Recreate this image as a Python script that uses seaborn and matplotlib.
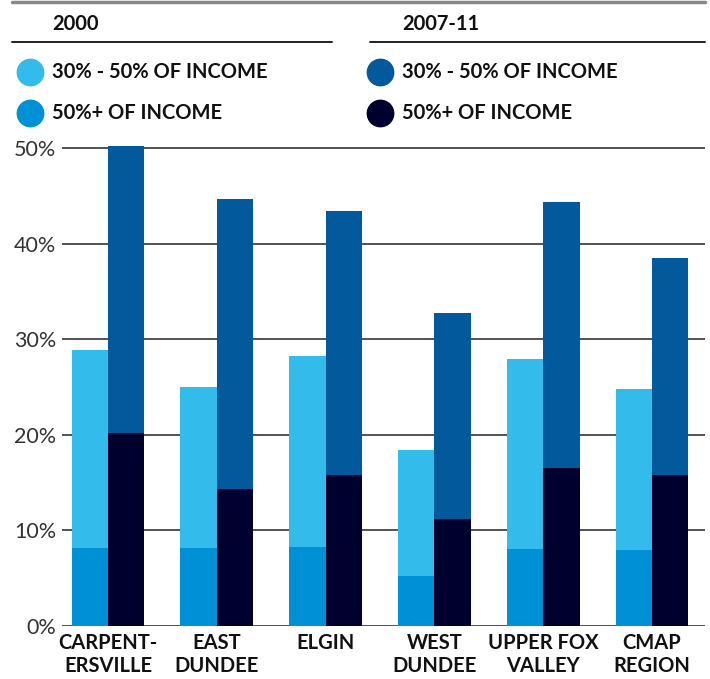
import pandas as pd
import matplotlib.pyplot as plt
import seaborn as sns
from matplotlib.lines import Line2D

# values (percent of households)
areas = ["CARPENT-\nERSVILLE", "EAST\nDUNDEE", "ELGIN", "WEST\nDUNDEE",
         "UPPER FOX\nVALLEY", "CMAP\nREGION"]
periods = ["2000", "2007-11"]
burden_30_50_2000 = [20.7, 16.8, 20.0, 13.2, 19.8, 16.8]
burden_50plus_2000 = [8.2, 8.2, 8.3, 5.2, 8.1, 8.0]
burden_30_50_0711 = [30.0, 30.4, 27.6, 21.5, 27.9, 22.7]
burden_50plus_0711 = [20.2, 14.3, 15.8, 11.2, 16.5, 15.8]
yticks = [0, 10, 20, 30, 40, 50]

COL_30_50 = ["#33BBEC", "#02599C"]
COL_50PLUS = ["#0090D6", "#00002E"]
legend_labels = ["30% - 50% OF INCOME", "50%+ OF INCOME"]

rows = []
for i, a in enumerate(areas):
    rows.append({"area": a, "period": periods[0],
                 "total": burden_30_50_2000[i] + burden_50plus_2000[i],
                 "over50": burden_50plus_2000[i]})
    rows.append({"area": a, "period": periods[1],
                 "total": burden_30_50_0711[i] + burden_50plus_0711[i],
                 "over50": burden_50plus_0711[i]})
df = pd.DataFrame(rows)

sns.set_theme(style="white")
plt.rcParams['font.family'] = ['Lato', 'DejaVu Sans']

fig = plt.figure(figsize=(7.1, 6.79), dpi=100)
ax = fig.add_axes([62 / 710, 53 / 679, 643 / 710, (626 - 138.6) / 679])

# gridlines behind the bars
for t in yticks:
    ax.axhline(t, color="#444444", lw=1.3, zorder=0)

# stacked: draw full height (30%+) first, then the 50%+ part on top
sns.barplot(data=df, x="area", y="total", hue="period", palette=COL_30_50,
            width=0.67, gap=0, saturation=1, legend=False, ax=ax, zorder=2)
sns.barplot(data=df, x="area", y="over50", hue="period", palette=COL_50PLUS,
            width=0.67, gap=0, saturation=1, legend=False, ax=ax, zorder=3)
for p in ax.patches:
    p.set_linewidth(0)
    p.set_clip_on(False)

ax.set_xlim(-0.423, 5.487)
ax.set_ylim(0, 51)
ax.set_yticks(yticks)
ax.set_yticklabels([f"{t}%" for t in yticks], fontsize=15.5, color="#333333")
ax.set_xticks(range(len(areas)))
ax.set_xticklabels(areas, fontsize=14.5, fontweight="bold", color="#111111",
                   linespacing=1.18)
ax.tick_params(axis="both", length=0)
ax.tick_params(axis="y", pad=4)
ax.tick_params(axis="x", pad=5)
ax.set_xlabel("")
ax.set_ylabel("")
sns.despine(ax=ax, left=True, bottom=True)

# header lines and period titles
def fy(y):
    return 1 - y / 679

fig.add_artist(Line2D([12 / 710, 705 / 710], [fy(2), fy(2)], color="#888888", lw=2.5))
fig.add_artist(Line2D([12 / 710, 332 / 710], [fy(42), fy(42)], color="#222222", lw=1.4))
fig.add_artist(Line2D([370 / 710, 705 / 710], [fy(42), fy(42)], color="#222222", lw=1.4))
fig.text(52 / 710, fy(24), periods[0], fontsize=14.5, fontweight="bold",
         color="#111111", va="center")
fig.text(402 / 710, fy(24), periods[1], fontsize=14.5, fontweight="bold",
         color="#111111", va="center")

# legend: circles plus bold labels
for j, (x_dot, x_txt, cols) in enumerate([(30, 52, [COL_30_50[0], COL_50PLUS[0]]),
                                         (380, 402, [COL_30_50[1], COL_50PLUS[1]])]):
    for k, y in enumerate([72, 113]):
        fig.add_artist(Line2D([x_dot / 710], [fy(y)], marker="o", markersize=19,
                              color=cols[k], lw=0))
        fig.text(x_txt / 710, fy(y), legend_labels[k], fontsize=14.5,
                 fontweight="bold", color="#111111", va="center")

fig.savefig("out.png", dpi=100)
